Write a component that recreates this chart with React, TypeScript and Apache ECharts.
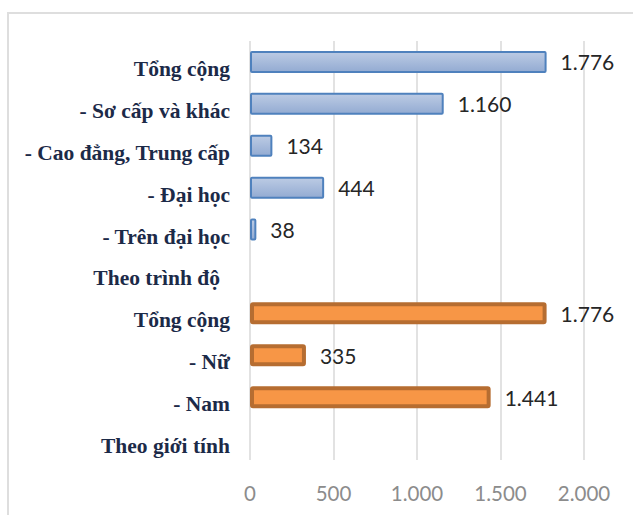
import React, { useEffect, useRef } from "react";
import * as echarts from "echarts";

const categories = [
  "Tổng cộng",
  "- Sơ cấp và khác",
  "- Cao đẳng, Trung cấp",
  "- Đại học",
  "- Trên đại học",
  "Theo trình độ",
  "Tổng cộng",
  "- Nữ",
  "- Nam",
  "Theo giới tính",
];
// values by education level (top block)
const educationValues: (number | null)[] = [1776, 1160, 134, 444, 38, null, null, null, null, null];
// values by gender (bottom block)
const genderValues: (number | null)[] = [null, null, null, null, null, null, 1776, 335, 1441, null];
const xTicks = [0, 500, 1000, 1500, 2000];

const fmt = (v: number) => String(Math.round(v)).replace(/\B(?=(\d{3})+(?!\d))/g, ".");

export default function App() {
  const ref = useRef<HTMLDivElement>(null);
  useEffect(() => {
    if (!ref.current) return;
    const chart = echarts.init(ref.current, undefined, { renderer: "svg" });
    const labelStyle = {
      show: true,
      position: "right" as const,
      distance: 14,
      fontFamily: "Lato",
      fontSize: 21,
      color: "#262626",
      formatter: (p: any) => fmt(p.value),
    };
    const catFont = {
      fontFamily: "Liberation Serif",
      fontWeight: "bold" as const,
      fontSize: 21.5,
      color: "#1c2a48",
    };
    chart.setOption({
      animation: false,
      backgroundColor: "#ffffff",
      graphic: [
        {
          type: "rect",
          shape: { x: 8, y: 13, width: 700, height: 600 },
          style: { fill: "none", stroke: "#dedede", lineWidth: 2 },
          silent: true,
        },
      ],
      grid: { left: 250, top: 41, width: 334, height: 419 },
      xAxis: {
        type: "value",
        min: xTicks[0],
        max: xTicks[xTicks.length - 1],
        interval: xTicks[1] - xTicks[0],
        axisLine: { show: false },
        axisTick: { show: false },
        splitLine: { show: true, lineStyle: { color: "#d9d9d9", width: 1.5 } },
        axisLabel: {
          margin: 22,
          fontFamily: "Lato",
          fontSize: 20.5,
          color: "#8c8c8c",
          formatter: (v: number) => fmt(v),
        },
      },
      yAxis: {
        type: "category",
        inverse: true,
        data: categories,
        axisLine: { show: false },
        axisTick: { show: false },
        axisLabel: {
          margin: 20,
          ...catFont,
          padding: [14, 0, 0, 0],
          formatter: (v: string) => (v === "Theo trình độ" ? `{pad|${v}}` : v),
          rich: {
            pad: {
              ...catFont,
              padding: [0, 10, 0, 0],
            },
          },
        },
      },
      series: [
        {
          type: "bar",
          stack: "all",
          barWidth: 22,
          data: educationValues.map((v) => (v === null ? "-" : v)),
          itemStyle: {
            color: new echarts.graphic.LinearGradient(0, 0, 0, 1, [
              { offset: 0, color: "#bccbe4" },
              { offset: 1, color: "#93abd2" },
            ]),
            borderColor: "#4f81bd",
            borderWidth: 2,
            borderRadius: 1,
          },
          label: labelStyle,
        },
        {
          type: "bar",
          stack: "all",
          barWidth: 22,
          data: genderValues.map((v) => (v === null ? "-" : v)),
          itemStyle: {
            color: "#f79646",
            borderColor: "#b66d31",
            borderWidth: 4,
            borderRadius: 1,
          },
          label: labelStyle,
        },
      ],
    });
    return () => chart.dispose();
  }, []);
  return (
    <div
      ref={ref}
      style={{ position: "fixed", left: 0, top: 0, width: 633, height: 515, background: "#fff" }}
    />
  );
}
